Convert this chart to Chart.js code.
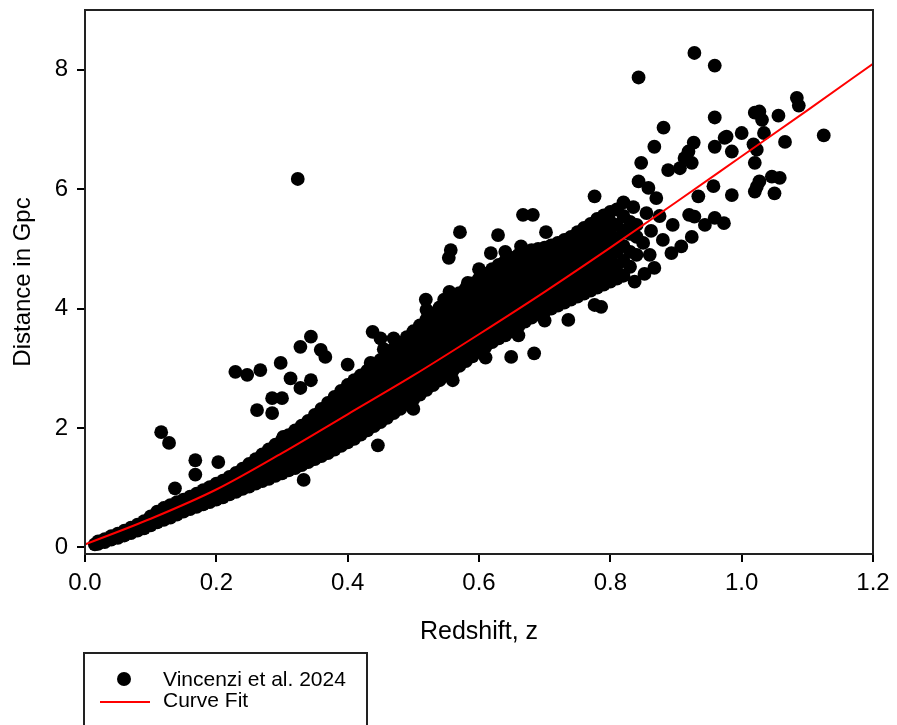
<!DOCTYPE html>
<html>
<head>
<meta charset="utf-8">
<title>Distance vs Redshift</title>
<script src="https://cdn.jsdelivr.net/npm/chart.js@4.4.1/dist/chart.umd.min.js"></script>
<style>
  html, body { margin: 0; padding: 0; background: #fff; }
  #wrap { width: 897px; height: 725px; }
</style>
</head>
<body>
<div id="wrap"><canvas id="hubbleChart" width="897" height="725"></canvas></div>
<script>
// Tick values for both axes
const xTicks = [0, 0.2, 0.4, 0.6, 0.8, 1.0, 1.2];
const yTicks = [0, 2, 4, 6, 8];

// Red curve fit
const fitZ = [0, 0.1, 0.2, 0.3, 0.4, 0.5, 0.6, 0.7, 0.8, 0.9, 1.0, 1.1, 1.2];
const fitD = [0.05, 0.48, 0.97, 1.58, 2.23, 2.88, 3.57, 4.28, 5.02, 5.78, 6.55, 7.32, 8.10];

// Dense band of supernovae: each row is [redshift, distance, distance, ...]
const bandColumns = [
    [0.015, 0.05],
    [0.02, 0.06, 0.10],
    [0.03, 0.09, 0.14],
    [0.04, 0.13, 0.19],
    [0.05, 0.16, 0.23],
    [0.06, 0.20, 0.28],
    [0.07, 0.24, 0.33],
    [0.08, 0.28, 0.38],
    [0.09, 0.32, 0.44],
    [0.10, 0.37, 0.45, 0.52],
    [0.11, 0.42, 0.51, 0.60],
    [0.12, 0.46, 0.56, 0.66],
    [0.13, 0.50, 0.61, 0.71],
    [0.14, 0.55, 0.66, 0.76],
    [0.15, 0.60, 0.70, 0.80],
    [0.16, 0.64, 0.75, 0.85],
    [0.17, 0.68, 0.79, 0.90],
    [0.18, 0.72, 0.84, 0.96],
    [0.19, 0.76, 0.88, 1.01],
    [0.20, 0.80, 0.94, 1.07],
    [0.21, 0.84, 0.98, 1.12],
    [0.22, 0.89, 1.04, 1.18],
    [0.23, 0.93, 1.09, 1.25],
    [0.24, 0.98, 1.15, 1.32],
    [0.25, 1.02, 1.15, 1.28, 1.40],
    [0.26, 1.07, 1.21, 1.35, 1.48],
    [0.27, 1.11, 1.26, 1.41, 1.56],
    [0.28, 1.15, 1.31, 1.47, 1.64],
    [0.29, 1.20, 1.37, 1.54, 1.72],
    [0.30, 1.24, 1.42, 1.60, 1.80],
    [0.31, 1.29, 1.45, 1.61, 1.76, 1.88],
    [0.32, 1.33, 1.49, 1.65, 1.81, 1.96],
    [0.33, 1.38, 1.55, 1.72, 1.88, 2.04],
    [0.34, 1.43, 1.60, 1.77, 1.94, 2.12],
    [0.35, 1.48, 1.66, 1.84, 2.03, 2.22],
    [0.36, 1.53, 1.72, 1.92, 2.12, 2.32],
    [0.37, 1.58, 1.75, 1.92, 2.08, 2.25, 2.42],
    [0.38, 1.64, 1.82, 2.00, 2.17, 2.35, 2.52],
    [0.39, 1.70, 1.88, 2.07, 2.25, 2.44, 2.62],
    [0.40, 1.76, 1.95, 2.14, 2.33, 2.52, 2.72],
    [0.41, 1.82, 2.01, 2.21, 2.40, 2.60, 2.80],
    [0.42, 1.89, 2.05, 2.22, 2.38, 2.55, 2.71, 2.88],
    [0.43, 1.96, 2.13, 2.30, 2.46, 2.63, 2.80, 2.96],
    [0.44, 2.03, 2.20, 2.37, 2.54, 2.71, 2.88, 3.05],
    [0.45, 2.10, 2.27, 2.45, 2.62, 2.79, 2.97, 3.14],
    [0.46, 2.17, 2.35, 2.52, 2.70, 2.87, 3.05, 3.22],
    [0.47, 2.25, 2.43, 2.61, 2.79, 2.96, 3.14, 3.32],
    [0.48, 2.32, 2.50, 2.68, 2.87, 3.05, 3.23, 3.42],
    [0.49, 2.40, 2.56, 2.72, 2.88, 3.04, 3.20, 3.36, 3.52],
    [0.50, 2.48, 2.64, 2.81, 2.97, 3.13, 3.29, 3.46, 3.62],
    [0.51, 2.56, 2.72, 2.89, 3.05, 3.22, 3.39, 3.55, 3.72],
    [0.52, 2.64, 2.81, 2.98, 3.14, 3.31, 3.48, 3.65, 3.82],
    [0.53, 2.72, 2.89, 3.06, 3.23, 3.40, 3.58, 3.75, 3.92],
    [0.54, 2.80, 2.97, 3.15, 3.32, 3.50, 3.67, 3.85, 4.02],
    [0.55, 2.88, 3.05, 3.22, 3.39, 3.56, 3.73, 3.90, 4.10],
    [0.56, 2.96, 3.13, 3.31, 3.48, 3.66, 3.83, 4.01, 4.18],
    [0.57, 3.04, 3.21, 3.39, 3.56, 3.74, 3.91, 4.09, 4.26],
    [0.58, 3.12, 3.29, 3.47, 3.64, 3.82, 3.99, 4.17, 4.34],
    [0.59, 3.20, 3.37, 3.55, 3.72, 3.90, 4.07, 4.25, 4.42],
    [0.60, 3.28, 3.45, 3.63, 3.80, 3.98, 4.15, 4.33, 4.50],
    [0.61, 3.36, 3.53, 3.71, 3.88, 4.06, 4.23, 4.41, 4.58],
    [0.62, 3.44, 3.61, 3.79, 3.96, 4.14, 4.31, 4.49, 4.66],
    [0.63, 3.50, 3.67, 3.85, 4.02, 4.20, 4.37, 4.55, 4.73],
    [0.64, 3.55, 3.73, 3.91, 4.09, 4.27, 4.44, 4.62, 4.80],
    [0.65, 3.62, 3.80, 3.98, 4.15, 4.33, 4.50, 4.68, 4.85],
    [0.66, 3.70, 3.87, 4.04, 4.21, 4.38, 4.55, 4.72, 4.90],
    [0.67, 3.78, 3.95, 4.11, 4.28, 4.44, 4.61, 4.77, 4.94],
    [0.68, 3.85, 4.01, 4.17, 4.34, 4.50, 4.66, 4.82, 4.98],
    [0.69, 3.90, 4.06, 4.22, 4.38, 4.54, 4.70, 4.86, 5.00],
    [0.70, 3.95, 4.11, 4.27, 4.42, 4.58, 4.73, 4.89, 5.02],
    [0.71, 4.00, 4.16, 4.32, 4.48, 4.64, 4.80, 4.96, 5.06],
    [0.72, 4.05, 4.21, 4.37, 4.53, 4.69, 4.85, 5.00, 5.10],
    [0.73, 4.10, 4.26, 4.42, 4.58, 4.74, 4.90, 5.05, 5.15],
    [0.74, 4.15, 4.31, 4.47, 4.63, 4.79, 4.95, 5.10, 5.20],
    [0.75, 4.20, 4.37, 4.54, 4.71, 4.88, 5.05, 5.20, 5.28],
    [0.76, 4.25, 4.43, 4.61, 4.79, 4.97, 5.15, 5.35],
    [0.77, 4.30, 4.48, 4.67, 4.86, 5.05, 5.24, 5.42],
    [0.78, 4.35, 4.54, 4.73, 4.92, 5.12, 5.31, 5.50],
    [0.79, 4.40, 4.60, 4.80, 5.00, 5.20, 5.40, 5.56],
    [0.80, 4.45, 4.65, 4.85, 5.05, 5.25, 5.45, 5.62],
    [0.81, 4.50, 4.72, 4.95, 5.18, 5.40, 5.66],
    [0.82, 4.55, 4.80, 5.05, 5.30, 5.55],
    [0.83, 4.70, 4.95, 5.25, 5.45],
    [0.84, 4.90, 5.20, 5.40]
];

// Scattered points away from the band: [redshift, distance]
const outliers = [
    [0.116, 1.93], [0.128, 1.75], [0.137, 0.99], [0.168, 1.46], [0.168, 1.22], [0.203, 1.43],
    [0.229, 2.94], [0.247, 2.89], [0.267, 2.97], [0.298, 3.09], [0.262, 2.30], [0.285, 2.25],
    [0.285, 2.50], [0.300, 2.50], [0.313, 2.83], [0.328, 2.67], [0.344, 2.80], [0.302, 1.85],
    [0.324, 6.17], [0.328, 3.36], [0.344, 3.53], [0.359, 3.31], [0.366, 3.19], [0.400, 3.06],
    [0.435, 3.09], [0.438, 3.61], [0.450, 3.50], [0.333, 1.13], [0.446, 1.71],
    [0.470, 3.50], [0.455, 3.32], [0.520, 3.98], [0.555, 4.28], [0.600, 4.66], [0.640, 4.95],
    [0.500, 2.32], [0.560, 2.80], [0.610, 3.18], [0.700, 3.80], [0.660, 3.55],
    [0.519, 4.15], [0.547, 4.15], [0.547, 3.98], [0.554, 4.85], [0.557, 4.98], [0.571, 5.28],
    [0.583, 4.43], [0.618, 4.93], [0.629, 5.23], [0.653, 4.82], [0.664, 5.04], [0.667, 5.57],
    [0.682, 5.57], [0.692, 4.98], [0.702, 5.28], [0.649, 3.19], [0.684, 3.25], [0.736, 3.81],
    [0.776, 4.06], [0.786, 4.03], [0.776, 5.88], [0.843, 6.13], [0.858, 6.02], [0.847, 6.44],
    [0.867, 6.71], [0.881, 7.03], [0.888, 6.32], [0.906, 6.35], [0.913, 6.52], [0.919, 6.63],
    [0.927, 6.78], [0.959, 7.20], [0.959, 6.71], [0.974, 6.86], [1.000, 6.94], [1.020, 7.28],
    [1.023, 6.66], [1.020, 6.44], [1.023, 6.04], [0.985, 5.90], [0.944, 5.40], [0.928, 5.54],
    [0.959, 5.52], [0.973, 5.43], [0.957, 6.05], [0.934, 5.88], [0.924, 5.20], [0.908, 5.04],
    [0.893, 4.93], [0.867, 4.68], [0.837, 4.45], [0.843, 7.87], [0.928, 8.28], [0.959, 8.07],
    [1.084, 7.53], [1.087, 7.40], [1.027, 7.30], [1.031, 7.16], [1.056, 7.23], [1.125, 6.90],
    [1.066, 6.79], [0.977, 6.88], [1.034, 6.94], [0.985, 6.63], [1.018, 6.75], [0.924, 6.44],
    [1.046, 6.21], [1.058, 6.19], [1.027, 6.13], [1.050, 5.93], [1.020, 5.96], [0.920, 5.57],
    [0.862, 5.30], [0.875, 5.55], [0.880, 5.15], [0.895, 5.40], [0.870, 5.85], [0.855, 5.60],
    [0.850, 5.10], [0.860, 4.90], [0.852, 4.58], [0.820, 5.78], [0.835, 5.70]
];

const fontFamily = "'Liberation Sans', Arial, sans-serif";

function buildScatter() {
    const points = [];
    bandColumns.forEach(col => {
        const z = col[0];
        for (let i = 1; i < col.length; i++) {
            points.push({ x: z, y: col[i] });
        }
    });
    outliers.forEach(p => points.push({ x: p[0], y: p[1] }));
    return points;
}

// Box around the plot area (top and right sides)
const frameBox = {
    id: 'frameBox',
    afterDatasetsDraw(chart) {
        const a = chart.chartArea;
        const ctx = chart.ctx;
        ctx.save();
        ctx.strokeStyle = '#222';
        ctx.lineWidth = 2;
        ctx.strokeRect(a.left, a.top, a.right - a.left, a.bottom - a.top);
        ctx.restore();
    }
};

// Legend in a bordered box under the axis title
const legendBox = {
    id: 'legendBox',
    afterDraw(chart) {
        const ctx = chart.ctx;
        ctx.save();
        ctx.strokeStyle = '#222';
        ctx.lineWidth = 2;
        ctx.strokeRect(84, 653, 283, 100);

        ctx.fillStyle = '#000';
        ctx.beginPath();
        ctx.arc(124, 679, 7, 0, Math.PI * 2);
        ctx.fill();

        ctx.strokeStyle = '#ff0000';
        ctx.beginPath();
        ctx.moveTo(100, 702);
        ctx.lineTo(150, 702);
        ctx.stroke();

        ctx.fillStyle = '#000';
        ctx.font = '21px ' + fontFamily;
        ctx.textBaseline = 'middle';
        ctx.fillText('Vincenzi et al. 2024', 163, 680);
        ctx.fillText('Curve Fit', 163, 701);
        ctx.restore();
    }
};

function renderChart() {
    const ctx = document.getElementById('hubbleChart').getContext('2d');

    new Chart(ctx, {
        data: {
            datasets: [{
                type: 'scatter',
                label: 'Vincenzi et al. 2024',
                data: buildScatter(),
                backgroundColor: '#000',
                borderWidth: 0,
                pointRadius: 6.9,
                pointHoverRadius: 6.9,
                order: 1
            }, {
                type: 'line',
                label: 'Curve Fit',
                data: fitZ.map((z, i) => ({ x: z, y: fitD[i] })),
                borderColor: '#ff0000',
                borderWidth: 2,
                pointRadius: 0,
                fill: false,
                tension: 0.4,
                cubicInterpolationMode: 'monotone',
                order: 0
            }]
        },
        options: {
            responsive: false,
            animation: false,
            events: [],
            layout: { padding: { top: 10, left: 0, right: 24, bottom: 71 } },
            plugins: {
                legend: { display: false },
                tooltip: { enabled: false }
            },
            scales: {
                x: {
                    type: 'linear',
                    min: 0,
                    max: 1.2,
                    afterBuildTicks: scale => { scale.ticks = xTicks.map(v => ({ value: v })); },
                    afterFit: scale => { scale.height = 100; },
                    ticks: {
                        callback: v => v.toFixed(1),
                        color: '#000',
                        padding: 7,
                        maxRotation: 0,
                        autoSkip: false,
                        font: { family: fontFamily, size: 24 }
                    },
                    grid: { drawOnChartArea: false, drawTicks: true, tickLength: 8, color: '#000', lineWidth: 2 },
                    border: { display: true, color: '#222', width: 2 },
                    title: {
                        display: true,
                        text: 'Redshift, z',
                        color: '#000',
                        padding: { top: 0, bottom: 7 },
                        font: { family: fontFamily, size: 25 }
                    }
                },
                y: {
                    type: 'linear',
                    min: -0.11,
                    max: 9.0,
                    afterBuildTicks: scale => { scale.ticks = yTicks.map(v => ({ value: v })); },
                    afterFit: scale => {
                        scale.width = 85;
                        scale.paddingTop = 0;
                        scale.paddingBottom = 0;
                    },
                    ticks: {
                        callback: v => String(v),
                        color: '#000',
                        padding: 9,
                        font: { family: fontFamily, size: 24 }
                    },
                    grid: { drawOnChartArea: false, drawTicks: true, tickLength: 8, color: '#000', lineWidth: 2 },
                    border: { display: true, color: '#222', width: 2 },
                    title: {
                        display: true,
                        text: 'Distance in Gpc',
                        color: '#000',
                        padding: { top: 9, bottom: 0 },
                        font: { family: fontFamily, size: 24 }
                    }
                }
            }
        },
        plugins: [frameBox, legendBox]
    });
}

renderChart();
</script>
</body>
</html>
